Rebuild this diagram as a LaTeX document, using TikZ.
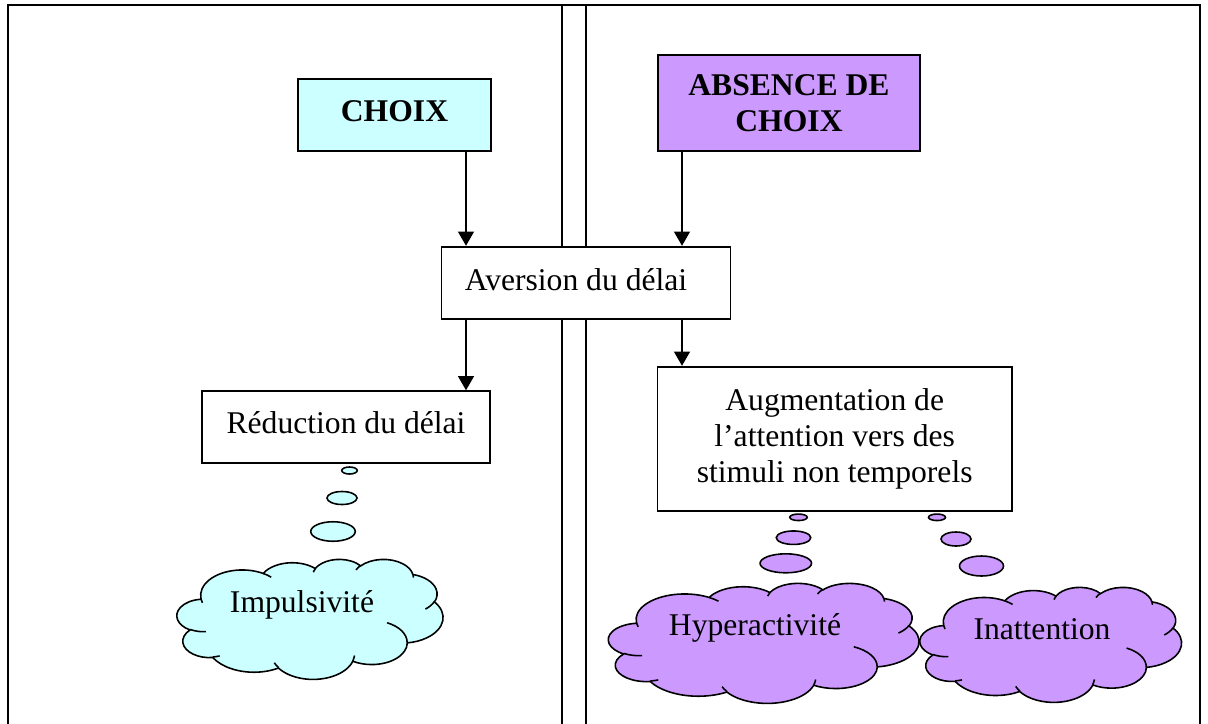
\documentclass[tikz,border=0pt]{standalone}
\usepackage{fontspec}
\setmainfont{Liberation Serif}
\usepackage{xcolor}
\usetikzlibrary{arrows.meta,shapes.geometric}
\definecolor{choixcolor}{HTML}{CCFFFF}
\definecolor{absencecolor}{HTML}{CC99FF}
\tikzset{
  box/.style={
    draw,
    line width=1.1pt,
    fill=white,
    align=center,
    inner sep=0pt,
    font=\fontsize{18}{20.5}\selectfont
  },
  choix box/.style={
    box,
    fill=choixcolor,
    font=\fontsize{18}{20.5}\selectfont\bfseries
  },
  absence box/.style={
    box,
    fill=absencecolor,
    font=\fontsize{18}{20.5}\selectfont\bfseries
  },
  arrow/.style={
    -{Triangle[length=8pt,width=9pt]},
    line width=0.75pt
  },
  bubble/.style={
    ellipse,
    draw,
    line width=0.9pt,
    inner sep=0pt
  },
  cloud line/.style={line width=0.9pt},
  cloud text/.style={
    inner sep=0pt,
    font=\fontsize{18}{20.5}\selectfont
  },
  frame/.style={line width=1.5pt},
  divider/.style={line width=1pt},
  % elliptic arc given by radii, start angle and sweep of the ray
  warc/.code n args={4}{%
    \pgfmathsetmacro\warcs{atan2((#1)*sin(#3),(#2)*cos(#3))}%
    \pgfmathsetmacro\warce{atan2((#1)*sin((#3)+(#4)),(#2)*cos((#3)+(#4)))}%
    \pgfmathsetmacro\warcd{Mod((\warce)-(\warcs),360)}%
    \pgfkeysalso{x radius=#1, y radius=#2, start angle=\warcs, delta angle=\warcd}}
}

% thought cloud: left, top, width, height, colour
\newcommand{\thoughtcloud}[5]{%
  \begin{scope}[shift={(#1,#2)}, xscale=#3/4320, yscale=#4/4320]
    \filldraw[cloud line, fill=#5] (390,1437)
      arc[warc={675.3}{919.0}{-190.4875}{123.7805}]
      arc[warc={533.3}{726.7}{-144.1024}{89.9452}]
      arc[warc={436.5}{594.5}{-145.8079}{99.7230}]
      arc[warc={485.7}{659.5}{-130.9861}{117.2417}]
      arc[warc={533.3}{727.3}{-78.7089}{109.0269}]
      arc[warc={677.5}{922.0}{-46.2673}{130.2690}]
      arc[warc={578.5}{786.7}{0.6250}{114.0333}]
      arc[warc={675.2}{921.5}{22.4516}{115.1726}]
      arc[warc={772.0}{1054.3}{66.2426}{75.7110}]
      arc[warc={436.0}{591.8}{-274.9421}{146.7356}]
      arc[warc={434.5}{594.5}{-246.8285}{152.5189}]
      -- cycle;
    \draw[cloud line]
      (469.3,2617.7) arc[warc={434.5}{594.5}{86.7420}{26.4295}]
      (692.8,3489.9) arc[warc={436.0}{591.8}{73.6105}{11.4475}]
      (1647.8,3909.0) arc[warc={675.2}{921.5}{137.6242}{14.0811}]
      (2882.7,3475.1) arc[warc={675.2}{921.5}{6.4533}{15.9984}]
      (3412.9,2295.4) arc[warc={578.5}{786.7}{-70.2924}{70.9174}]
      (4179.8,1535.4) arc[warc={533.3}{727.3}{30.3180}{27.7515}]
      (3832.4,542.6) arc[warc={485.7}{659.5}{-13.7443}{14.8589}]
      (2907.8,395.2) arc[warc={485.7}{659.5}{-149.1815}{18.1954}]
      (2214.1,472.0) arc[warc={436.5}{594.5}{-163.4943}{17.6864}]
      (1400.0,519.2) arc[warc={675.3}{919.0}{-66.7070}{12.3194}]
      (412.7,1578.9) arc[warc={675.3}{919.0}{157.6544}{11.8582}];
  \end{scope}}

\begin{document}
\begin{tikzpicture}[x=0.02cm,y=-0.02cm]
  \useasboundingbox (0,0) rectangle (1208,724);
  \clip (0,0) rectangle (1208,724);

  % frame and double separator
  \draw[frame] (8,730) -- (8,5) -- (1200,5) -- (1200,730);
  \draw[divider] (562,5) -- (562,730);
  \draw[divider] (586,5) -- (586,730);

  % columns of the arrows
  \coordinate (leftcol) at (466,0);
  \coordinate (rightcol) at (682,0);

  % top boxes
  \node[choix box, minimum width=3.86cm, minimum height=1.44cm, text depth=0.45em] (choix) at (394.5,115) {CHOIX};
  \node[absence box, minimum width=5.25cm, minimum height=1.92cm] (absence) at (789,103) {ABSENCE DE\\CHOIX};

  % middle box
  \node[box, minimum width=5.78cm, minimum height=1.45cm, text depth=0.4em] (aversion) at (586,283)
    {Aversion du délai\hspace*{0.4cm}};

  % lower boxes
  \node[box, minimum width=5.77cm, minimum height=1.43cm, text depth=0.55em] (reduction) at (346,427) {Réduction du délai};
  \node[box, minimum width=7.09cm, minimum height=2.89cm] (augment) at (834.7,439)
    {Augmentation de\\l’attention vers des\\stimuli non temporels};

  \draw[arrow] (choix.south -| leftcol) -- (aversion.north -| leftcol);
  \draw[arrow] (absence.south -| rightcol) -- (aversion.north -| rightcol);
  \draw[arrow] (aversion.south -| leftcol) -- (reduction.north -| leftcol);
  \draw[arrow] (aversion.south -| rightcol) -- (augment.north -| rightcol);

  % Impulsivite
  \node[bubble, fill=choixcolor, minimum width=0.31cm, minimum height=0.14cm] (impb1) at (349.5,470.5) {};
  \node[bubble, fill=choixcolor, minimum width=0.6cm, minimum height=0.26cm] (impb2) at (342,498) {};
  \node[bubble, fill=choixcolor, minimum width=0.89cm, minimum height=0.39cm] (impb3) at (333,531.5) {};
  \thoughtcloud{177}{559}{266}{120}{choixcolor}
  \node[cloud text] (implabel) at (302,605) {Impulsivité};

  % Hyperactivite
  \node[bubble, fill=absencecolor, minimum width=0.35cm, minimum height=0.13cm] (hypb1) at (798.5,517.3) {};
  \node[bubble, fill=absencecolor, minimum width=0.69cm, minimum height=0.27cm] (hypb2) at (793.5,537.7) {};
  \node[bubble, fill=absencecolor, minimum width=1.03cm, minimum height=0.38cm] (hypb3) at (785.8,563.3) {};
  \thoughtcloud{608.5}{583}{310.5}{120}{absencecolor}
  \node[cloud text] (hyplabel) at (755,628) {Hyperactivité};

  % Inattention
  \node[bubble, fill=absencecolor, minimum width=0.34cm, minimum height=0.13cm] (inab1) at (937,517.3) {};
  \node[bubble, fill=absencecolor, minimum width=0.6cm, minimum height=0.28cm] (inab2) at (956,539) {};
  \node[bubble, fill=absencecolor, minimum width=0.88cm, minimum height=0.4cm] (inab3) at (981.5,566) {};
  \thoughtcloud{920}{587}{261.5}{115}{absencecolor}
  \node[cloud text] (inalabel) at (1042,629) {Inattention};

\end{tikzpicture}
\end{document}
